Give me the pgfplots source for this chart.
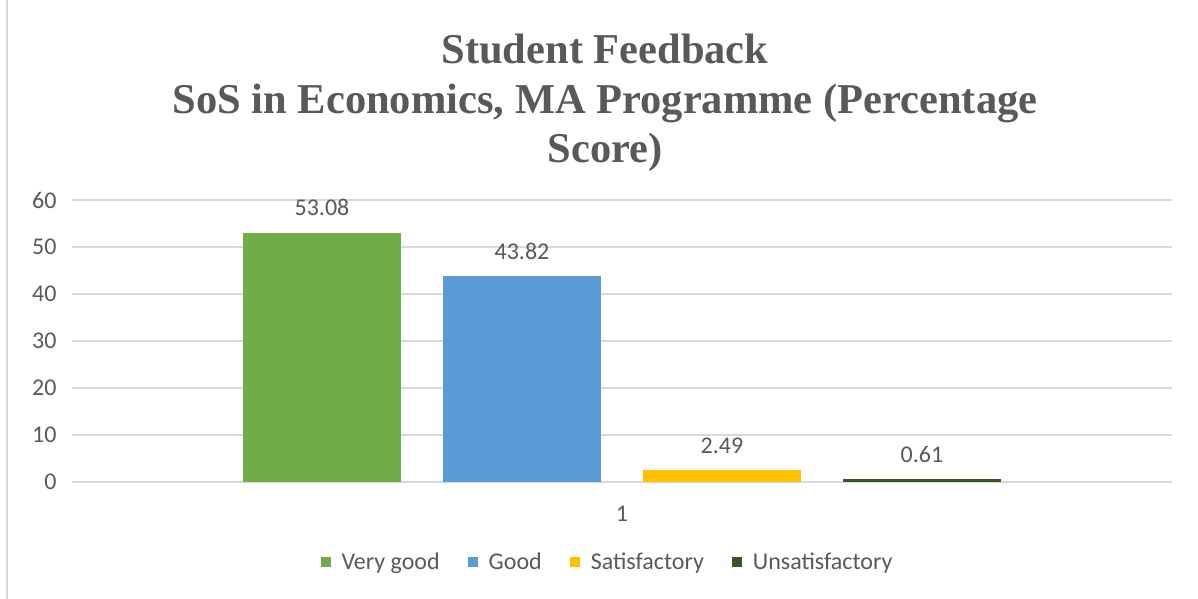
\documentclass[border=0pt]{standalone}
\usepackage{pgfplots}
\pgfplotsset{compat=1.18}
\usepackage{fontspec}
\setmainfont{Carlito}
\newfontfamily\titlefont{Liberation Serif}
\definecolor{cVG}{HTML}{70AD47}
\definecolor{cG}{HTML}{5B9BD5}
\definecolor{cS}{HTML}{FFC000}
\definecolor{cU}{HTML}{375623}
\definecolor{txt}{HTML}{595959}
\definecolor{grd}{HTML}{D9D9D9}
\begin{document}
\begin{tikzpicture}
\useasboundingbox (0,0) rectangle (1198pt,599pt);
\fill[white] (0,0) rectangle (1198pt,599pt);
\draw[grd, line width=1.5pt] (7pt,0) -- (7pt,599pt);
\node[align=center, text=txt, font=\titlefont\bfseries\fontsize{42.5}{49.5}\selectfont, anchor=center] at (605pt,496pt)
  {Student Feedback\\SoS in Economics, MA Programme (Percentage\\Score)};
\begin{axis}[
  at={(72pt,117pt)}, anchor=south west,
  scale only axis, width=1100pt, height=282pt,
  xmin=0.5, xmax=1.5, ymin=0, ymax=60,
  ybar=42pt, bar width=158pt,
  axis line style={draw=none},
  ytick={0,10,...,60},
  xtick={1},
  tick style={draw=none},
  ymajorgrids, grid style={grd, line width=1.5pt},
  /pgf/number format/assume math mode=true,
  tick label style={font=\fontsize{24}{28}\selectfont, text=txt},
  yticklabel style={xshift=-12pt},
  xticklabel style={yshift=-16pt},
  nodes near coords,
  nodes near coords style={font=\fontsize{24}{28}\selectfont, text=txt, yshift=13pt, /pgf/number format/.cd, fixed, precision=2, fixed zerofill, assume math mode=true},
  legend columns=4,
  legend style={at={(0.4868,-0.2837)}, anchor=center, draw=none, fill=none,
    font=\fontsize{24}{28}\selectfont, text=txt,
    /tikz/every odd column/.append style={column sep=9pt},
    /tikz/every even column/.append style={column sep=26pt}},
  legend image code/.code={\fill[#1, draw=none] (0pt,-5pt) rectangle (10pt,5pt);},
]
\addplot[fill=cVG, draw=none] coordinates {(1,53.08)};
\addplot[fill=cG, draw=none] coordinates {(1,43.82)};
\addplot[fill=cS, draw=none] coordinates {(1,2.49)};
\addplot[fill=cU, draw=none] coordinates {(1,0.61)};
\legend{Very good, Good, Satisfactory, Unsatisfactory}
\end{axis}
\end{tikzpicture}
\end{document}
